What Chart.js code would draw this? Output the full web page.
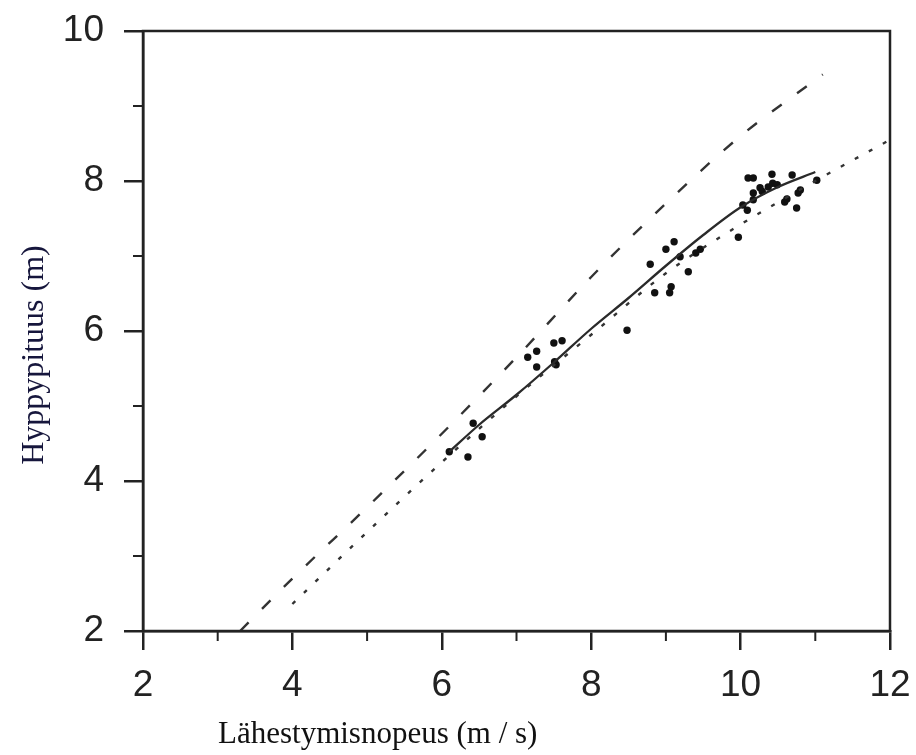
<!DOCTYPE html>
<html>
<head>
<meta charset="utf-8">
<script src="https://cdn.jsdelivr.net/npm/chart.js@4.4.1/dist/chart.umd.min.js"></script>
<style>
  html, body { margin: 0; padding: 0; background: #fff; }
  #wrap { width: 916px; height: 755px; }
</style>
</head>
<body>
<div id="wrap"><canvas id="chart" width="916" height="755"></canvas></div>
<script>
// axis labels and tick values
const xTitle = "Lähestymisnopeus (m / s)";
const yTitle = "Hyppypituus (m)";
const xMajor = [2, 4, 6, 8, 10, 12];
const xMinor = [3, 5, 7, 9, 11];
const yMajor = [2, 4, 6, 8, 10];
const yMinor = [3, 5, 7, 9];

// measured jumps (speed, distance)
const measX = [6.10, 6.35, 6.42, 6.54, 7.15, 7.27, 7.27, 7.50, 7.61, 7.51, 7.53,
  8.48, 8.79, 8.85, 9.05, 9.07, 9.00, 9.11, 9.19, 9.30, 9.40, 9.46, 9.97,
  10.03, 10.09, 10.10, 10.17, 10.17, 10.17, 10.26, 10.29, 10.37, 10.42, 10.43,
  10.49, 10.59, 10.62, 10.69, 10.75, 10.77, 10.80, 11.02];
const measY = [4.39, 4.32, 4.77, 4.59, 5.65, 5.73, 5.52, 5.84, 5.87, 5.59, 5.55,
  6.01, 6.89, 6.51, 6.51, 6.59, 7.09, 7.19, 6.99, 6.79, 7.04, 7.09, 7.25,
  7.68, 7.61, 8.04, 8.04, 7.84, 7.75, 7.91, 7.86, 7.92, 8.09, 7.97,
  7.95, 7.72, 7.76, 8.08, 7.64, 7.84, 7.88, 8.01];

// fitted curve (solid)
const fitX = [6.1, 6.5, 7, 7.5, 8, 8.5, 9, 9.5, 10, 10.5, 11];
const fitY = [4.39, 4.75, 5.15, 5.58, 6.03, 6.44, 6.87, 7.28, 7.65, 7.92, 8.12];

// dashed model curve
const dashX = [3.3, 4, 5, 6, 7, 8, 9, 10, 11.1];
const dashY = [2.0, 2.7, 3.65, 4.63, 5.65, 6.72, 7.7, 8.6, 9.42];

// dotted model curve
const dotX = [4, 5, 6, 7, 8, 9, 10, 11, 12];
const dotY = [2.36, 3.32, 4.25, 5.13, 5.95, 6.77, 7.42, 8.0, 8.55];

const pts = (xs, ys) => xs.map((x, i) => ({ x: x, y: ys[i] }));

const ink = "#222";
const tickFont = { family: "'Liberation Sans', Arial, sans-serif", size: 37 };

// frame, minor ticks and axis titles
const extras = {
  id: "extras",
  afterDraw(chart) {
    const ctx = chart.ctx;
    const a = chart.chartArea;
    const xs = chart.scales.x, ys = chart.scales.y;
    ctx.save();
    ctx.strokeStyle = ink;
    ctx.lineWidth = 2.5;
    ctx.strokeRect(a.left, a.top, a.right - a.left, a.bottom - a.top);
    ctx.lineWidth = 2;
    xMinor.forEach(v => {
      const px = xs.getPixelForValue(v);
      ctx.beginPath(); ctx.moveTo(px, a.bottom); ctx.lineTo(px, a.bottom + 10); ctx.stroke();
    });
    yMinor.forEach(v => {
      const py = ys.getPixelForValue(v);
      ctx.beginPath(); ctx.moveTo(a.left, py); ctx.lineTo(a.left - 10, py); ctx.stroke();
    });
    ctx.fillStyle = "#111";
    ctx.font = "31px 'Liberation Serif', 'DejaVu Serif', serif";
    ctx.textAlign = "left";
    ctx.textBaseline = "alphabetic";
    ctx.fillText(xTitle, 218, 743);
    ctx.translate(43, 355);
    ctx.rotate(-Math.PI / 2);
    ctx.textAlign = "center";
    ctx.font = "32px 'Liberation Serif', 'DejaVu Serif', serif";
    ctx.fillStyle = "#16163c";
    ctx.fillText(yTitle, 0, 0);
    ctx.restore();
  }
};

new Chart(document.getElementById("chart"), {
  type: "scatter",
  data: {
    datasets: [
      {
        data: pts(dashX, dashY),
        showLine: true,
        borderColor: "#333",
        borderWidth: 2.4,
        borderDash: [12, 19],
        pointRadius: 0,
        cubicInterpolationMode: "monotone"
      },
      {
        data: pts(dotX, dotY),
        showLine: true,
        borderColor: "#333",
        borderWidth: 2.4,
        borderDash: [4, 12],
        pointRadius: 0,
        cubicInterpolationMode: "monotone"
      },
      {
        data: pts(fitX, fitY),
        showLine: true,
        borderColor: "#2a2a2a",
        borderWidth: 2.3,
        pointRadius: 0,
        cubicInterpolationMode: "monotone"
      },
      {
        data: pts(measX, measY),
        pointRadius: 3.7,
        pointBackgroundColor: "#111",
        pointBorderWidth: 0,
        showLine: false
      }
    ]
  },
  options: {
    responsive: false,
    animation: false,
    layout: { padding: { left: 0, top: 31, right: 26, bottom: 0 } },
    plugins: { legend: { display: false }, tooltip: { enabled: false } },
    scales: {
      x: {
        type: "linear",
        min: 2, max: 12,
        afterBuildTicks: s => { s.ticks = xMajor.map(v => ({ value: v })); },
        afterFit: s => { s.height = 124; s.paddingLeft = 0; s.paddingRight = 0; },
        grid: { drawOnChartArea: false, tickLength: 19, color: ink, lineWidth: 2.5 },
        border: { display: true, color: ink, width: 2.5 },
        ticks: { color: ink, padding: 14, font: tickFont }
      },
      y: {
        type: "linear",
        min: 2, max: 10,
        afterBuildTicks: s => { s.ticks = yMajor.map(v => ({ value: v })); },
        afterFit: s => { s.width = 143; s.paddingTop = 0; s.paddingBottom = 0; },
        grid: { drawOnChartArea: false, tickLength: 19, color: ink, lineWidth: 2.5 },
        border: { display: true, color: ink, width: 2.5 },
        ticks: { color: ink, padding: 20, font: tickFont }
      }
    }
  },
  plugins: [extras]
});
</script>
</body>
</html>
